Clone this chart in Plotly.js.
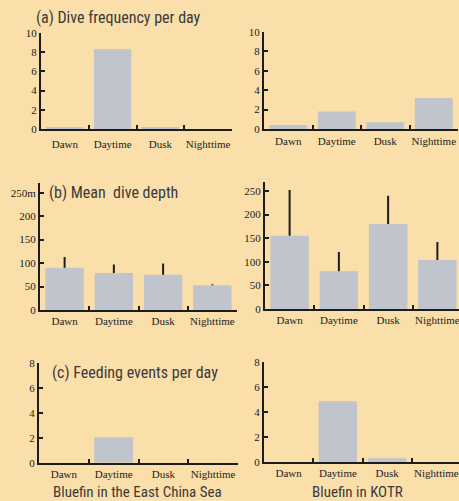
<!DOCTYPE html>
<html><head><meta charset="utf-8">
<script src="https://cdn.plot.ly/plotly-3.0.1.min.js"></script>
<style>html,body{margin:0;padding:0;overflow:hidden;background:#fadfaa;width:459px;height:501px}</style>
</head><body><div id="chart"></div>
<script>
const categories = ['Dawn','Daytime','Dusk','Nighttime'];
const ecsFreq = [0.2, 8.3, 0.2, 0];
const kotrFreq = [0.4, 1.8, 0.7, 3.2];
const ecsDepth = [90, 79, 75, 53];
const ecsDepthErr = [23, 18, 24, 2];
const kotrDepth = [155, 80, 180, 104];
const kotrDepthErr = [97, 41, 60, 38];
const ecsFeed = [0, 2.05, 0, 0];
const kotrFeed = [0, 4.85, 0.3, 0];
const depthTicks = [0, 50, 100, 150, 200, 250];
const depthTickTextL = ['0', '50', '100', '150', '200', '250m'];
const depthTickTextR = ['0', '50', '100', '150', '200', '250'];
const panelTitles = ['(a) Dive frequency per day', '(b) Mean  dive depth', '(c) Feeding events per day'];
const groupLabels = ['Bluefin in the East China Sea', 'Bluefin in KOTR'];

const W = 465, H = 501;
const barColor = '#c0c4cc';
const ink = '#1c1c1c';
const serif = 'Liberation Serif, Times New Roman, serif';
const narrow = 'Liberation Sans Narrow, Roboto Condensed, Liberation Sans, Arial, sans-serif';

// panel boxes in px: [x0, x1, yBottom, yTop]
const boxes = [
  [41, 232, 129, 33],
  [264, 458, 129, 32],
  [40, 237, 310, 183.3],
  [265, 462, 309, 181.6],
  [39, 238, 462.7, 363.3],
  [264, 461, 462, 361.7]
];
const standoffs = [4, 1, 0, 0, 0, 0];
const series = [ecsFreq, kotrFreq, ecsDepth, kotrDepth, ecsFeed, kotrFeed];
const errs = [null, null, ecsDepthErr, kotrDepthErr, null, null];

const data = series.map((vals, i) => {
  const t = {
    type: 'bar', x: categories, y: vals, width: 0.78,
    marker: {color: barColor, line: {width: 0}},
    xaxis: 'x' + (i ? i + 1 : ''), yaxis: 'y' + (i ? i + 1 : ''),
    hoverinfo: 'none', showlegend: false
  };
  if (errs[i]) {
    t.error_y = {type: 'data', symmetric: false, array: errs[i], arrayminus: errs[i].map(() => 0),
      width: 0, thickness: 2, color: ink};
  }
  return t;
});

const layout = {
  width: W, height: H,
  margin: {l: 0, r: 0, t: 0, b: 0},
  paper_bgcolor: '#fadfaa', plot_bgcolor: 'rgba(0,0,0,0)',
  bargap: 0.22,
  annotations: []
};

boxes.forEach((b, i) => {
  const sx = i ? String(i + 1) : '';
  const row = Math.floor(i / 2);
  const xa = {
    domain: [b[0] / W, b[1] / W], anchor: 'y' + sx,
    type: 'category', range: [-0.5, 3.5],
    showline: true, linecolor: ink, linewidth: 2,
    ticks: 'inside', tickson: 'boundaries', ticklen: 4, tickwidth: 2, tickcolor: ink,
    showgrid: false, zeroline: false, fixedrange: true, tickangle: 0,
    ticklabelstandoff: standoffs[i],
    tickfont: {family: serif, size: 11, color: '#222'}
  };
  let ya = {
    domain: [(H - b[2]) / H, (H - b[3]) / H], anchor: 'x' + sx,
    showline: true, linecolor: ink, linewidth: 2,
    ticks: 'inside', ticklen: 4, tickwidth: 2, tickcolor: ink,
    showgrid: false, zeroline: false, fixedrange: true,
    tickfont: {family: serif, size: 11, color: '#222'}
  };
  if (row === 0) { ya.range = [0, 10]; ya.dtick = 2; }
  else if (row === 1) { ya.range = [0, 270]; ya.tickvals = depthTicks; ya.ticktext = (i % 2 === 0) ? depthTickTextL : depthTickTextR; }
  else { ya.range = [0, 8]; ya.dtick = 2; }
  layout['xaxis' + sx] = xa;
  layout['yaxis' + sx] = ya;
});

const titlePos = [[34, 17], [47, 193], [50, 372]];
panelTitles.forEach((t, i) => {
  layout.annotations.push({
    text: t, xref: 'paper', yref: 'paper', x: titlePos[i][0] / W, y: (H - titlePos[i][1]) / H,
    xanchor: 'left', yanchor: 'middle', showarrow: false,
    font: {family: narrow, size: 16, color: '#3a3a3a'}
  });
});
const groupPos = [137, 357];
groupLabels.forEach((t, i) => {
  layout.annotations.push({
    text: t, xref: 'paper', yref: 'paper', x: groupPos[i] / W, y: (H - 492) / H,
    xanchor: 'center', yanchor: 'middle', showarrow: false,
    font: {family: narrow, size: 15, color: '#3a3a3a'}
  });
});

Plotly.newPlot('chart', data, layout, {displayModeBar: false, staticPlot: true});
</script>
</body></html>
